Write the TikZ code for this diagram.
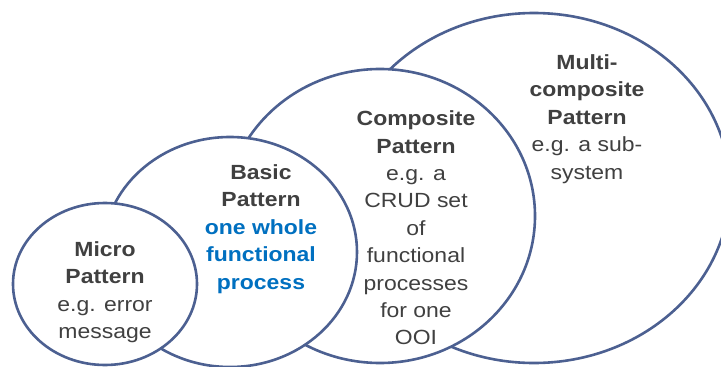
\documentclass[tikz,border=0pt]{standalone}
\usepackage{fontspec}
\setmainfont[FakeStretch=1.12]{Liberation Sans}
\usepackage{tikz}
\usetikzlibrary{shapes.geometric}
\definecolor{rim}{RGB}{76,96,145}
\definecolor{txt}{RGB}{64,64,64}
\definecolor{blu}{RGB}{0,112,192}

\begin{document}
\begin{tikzpicture}[x=1pt, y=-1pt, every node/.style={inner sep=0pt, outer sep=0pt},%
        blob/.style={draw=rim, line width=2.6pt, fill=white, ellipse},
        lbl/.style={align=center, text=txt, font=\fontsize{20.5}{27.4}\selectfont}]
    \useasboundingbox (0,0) rectangle (721,367);
    % circles, largest at the back
    \node[blob, minimum width=392pt, minimum height=350pt] (multi) at (534,188) {};
    \node[blob, minimum width=310pt, minimum height=294pt] (comp) at (380,216) {};
    \node[blob, minimum width=254pt, minimum height=230pt] (basic) at (230,252) {};
    \node[blob, minimum width=184pt, minimum height=162pt] (micro) at (105,284) {};
    % texts
    \node[lbl] (multitxt) at (587,119) {\textbf{Multi-}\\\textbf{composite}\\\textbf{Pattern}\\e.g. a sub-\\system};
    \node[lbl] (comptxt) at (416,228) {\textbf{Composite}\\\textbf{Pattern}\\e.g. a\\CRUD set\\of\\functional\\processes\\for one\\OOI};
    \node[lbl] (basictxt) at (261,229) {\textbf{Basic}\\\textbf{Pattern}\\\textcolor{blu}{\textbf{one whole}}\\\textcolor{blu}{\textbf{functional}}\\\textcolor{blu}{\textbf{process}}};
    \node[lbl] (microtxt) at (105,292) {\textbf{Micro}\\\textbf{Pattern}\\e.g. error\\message};
\end{tikzpicture}
\end{document}
